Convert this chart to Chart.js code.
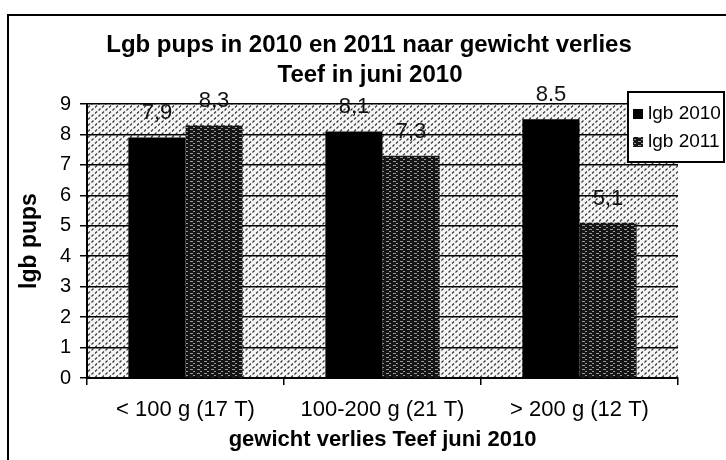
<!DOCTYPE html>
<html>
<head>
<meta charset="utf-8">
<script src="https://cdn.jsdelivr.net/npm/chart.js@4"></script>
<style>
  html, body { margin: 0; padding: 0; background: #fff; }
  #wrap { width: 726px; height: 460px; position: relative; }
</style>
</head>
<body>
<div id="wrap"><canvas id="myChart" width="726" height="460"></canvas></div>
<script>
const categories = ['< 100 g (17 T)', '100-200 g (21 T)', '> 200 g (12 T)'];
const lgb2010 = [7.9, 8.1, 8.5];
const lgb2011 = [8.3, 7.3, 5.1];
// value labels as printed on the chart
const labels2010 = ['7,9', '8,1', '8.5'];
const labels2011 = ['8,3', '7,3', '5,1'];
const yTicks = [0, 1, 2, 3, 4, 5, 6, 7, 8, 9];

const FONT = 'Arial, "Liberation Sans", sans-serif';

const makePattern = (w, h, draw) => {
    let c = document.createElement('canvas');
    c.width = w;
    c.height = h;
    let g = c.getContext('2d');
    draw(g);
    return document.getElementById('myChart').getContext('2d').createPattern(c, 'repeat');
};

// hatched plot background (short diagonal dashes)
const bgPattern = makePattern(7, 6, g => {
    g.fillStyle = '#f6f6f6';
    g.fillRect(0, 0, 7, 6);
    g.strokeStyle = '#333';
    g.lineWidth = 1.1;
    g.beginPath();
    g.moveTo(0.5, 2.5); g.lineTo(2.5, 0.5);
    g.moveTo(4, 5.5); g.lineTo(6, 3.5);
    g.stroke();
});

// dark dotted bars for 2011
const barPattern = makePattern(7, 4, g => {
    g.fillStyle = '#151515';
    g.fillRect(0, 0, 7, 4);
    g.fillStyle = '#9a9a9a';
    g.fillRect(1, 1, 3, 1);
    g.fillRect(4, 3, 2, 1);
});

const decorations = {
    id: 'decorations',
    beforeDraw(chart) {
        let ctx = chart.ctx;
        let a = chart.chartArea;
        ctx.save();
        // outer frame
        ctx.strokeStyle = '#000';
        ctx.lineWidth = 2;
        ctx.beginPath();
        ctx.moveTo(8, 462);
        ctx.lineTo(8, 15);
        ctx.lineTo(728, 15);
        ctx.stroke();
        // plot background
        ctx.fillStyle = bgPattern;
        ctx.fillRect(a.left, a.top, a.right - a.left, a.bottom - a.top);
        // title
        ctx.fillStyle = '#000';
        ctx.font = 'bold 24px ' + FONT;
        ctx.textAlign = 'center';
        ctx.textBaseline = 'middle';
        ctx.fillText('Lgb pups in 2010 en 2011 naar gewicht verlies', 369, 45);
        ctx.fillText('Teef in juni 2010', 370, 75);
        ctx.restore();
    },
    afterDatasetsDraw(chart) {
        let ctx = chart.ctx;
        ctx.save();
        ctx.fillStyle = '#111';
        ctx.font = '22px ' + FONT;
        ctx.textAlign = 'center';
        ctx.textBaseline = 'alphabetic';
        [labels2010, labels2011].forEach((texts, di) => {
            chart.getDatasetMeta(di).data.forEach((bar, i) => {
                ctx.fillText(texts[i], bar.x, bar.y - 18);
            });
        });
        // legend
        let lx = 628, ly = 92, lw = 96, lh = 70;
        ctx.fillStyle = '#fff';
        ctx.fillRect(lx, ly, lw, lh);
        ctx.strokeStyle = '#000';
        ctx.lineWidth = 2;
        ctx.strokeRect(lx, ly, lw, lh);
        ctx.font = '19px ' + FONT;
        ctx.textAlign = 'left';
        ctx.textBaseline = 'middle';
        chart.data.datasets.forEach((ds, di) => {
            let y = ly + 22 + di * 28;
            ctx.fillStyle = ds.backgroundColor;
            ctx.fillRect(lx + 5, y - 5, 10, 10);
            ctx.fillStyle = '#000';
            ctx.fillText(ds.label, lx + 20, y);
        });
        ctx.restore();
    }
};

const ctx = document.getElementById('myChart').getContext('2d');
window.myChart = new Chart(ctx, {
    type: 'bar',
    data: {
        labels: categories,
        datasets: [{
            label: 'lgb 2010',
            data: lgb2010,
            backgroundColor: '#000',
            categoryPercentage: 0.58,
            barPercentage: 1.0,
        }, {
            label: 'lgb 2011',
            data: lgb2011,
            backgroundColor: barPattern,
            categoryPercentage: 0.58,
            barPercentage: 1.0,
        }]
    },
    options: {
        responsive: false,
        animation: false,
        layout: {
            padding: { left: 0, right: 48, top: 104, bottom: 0 }
        },
        scales: {
            x: {
                afterFit: scale => { scale.height = 82; },
                grid: {
                    drawOnChartArea: false,
                    drawTicks: true,
                    tickLength: 7,
                    color: '#000',
                    lineWidth: 1.5,
                },
                border: { display: true, color: '#000', width: 2 },
                ticks: {
                    color: '#000',
                    padding: 12,
                    font: { family: FONT, size: 22 },
                    maxRotation: 0,
                },
                title: {
                    display: true,
                    text: 'gewicht verlies Teef juni 2010',
                    color: '#000',
                    font: { family: FONT, size: 22, weight: 'bold' },
                    padding: { top: 0, bottom: 7 },
                }
            },
            y: {
                min: 0,
                max: 9,
                afterFit: scale => { scale.width = 87; },
                afterBuildTicks: scale => { scale.ticks = yTicks.map(v => ({ value: v })); },
                grid: {
                    color: '#000',
                    lineWidth: 1.5,
                    tickLength: 7,
                },
                border: { display: true, color: '#000', width: 2 },
                ticks: {
                    color: '#000',
                    padding: 9,
                    font: { family: FONT, size: 20 },
                },
                title: {
                    display: true,
                    text: 'lgb pups',
                    color: '#000',
                    font: { family: FONT, size: 23, weight: 'bold' },
                    padding: { top: 16, bottom: 0 },
                }
            }
        },
        plugins: {
            legend: { display: false },
            title: { display: false },
            tooltip: { enabled: false },
        }
    },
    plugins: [decorations],
});
</script>
</body>
</html>
